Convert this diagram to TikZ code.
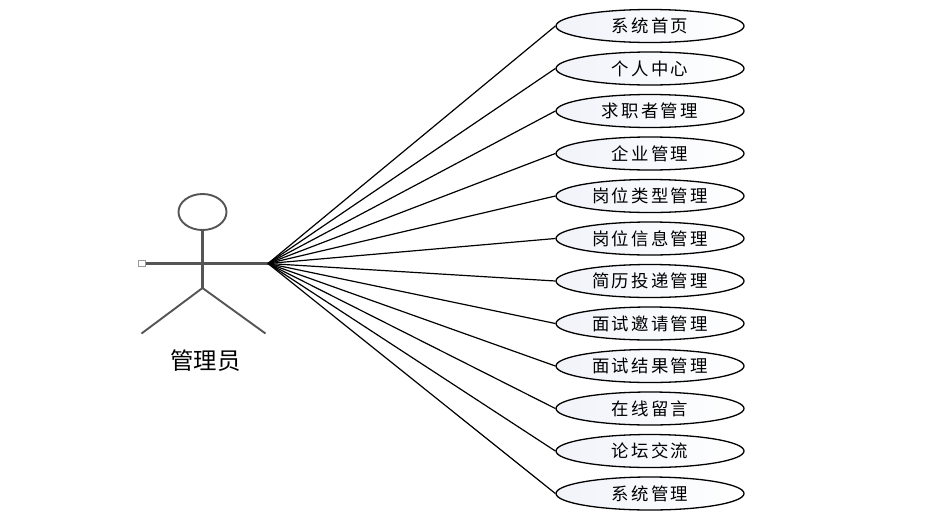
\documentclass[tikz,border=0pt]{standalone}
\usepackage{fontspec}
\usetikzlibrary{shapes.geometric}
\newfontfamily\cjk[LetterSpace=13]{Noto Sans CJK SC}
\newfontfamily\cjkplain{Noto Sans CJK SC}
\definecolor{actorgrey}{HTML}{555555}
\definecolor{casefill}{HTML}{F1F3FA}
\tikzset{
  usecase/.style={ellipse,draw=black,line width=1.3pt,minimum width=188pt,minimum height=33pt,inner sep=0pt,
    left color=casefill,right color=white,font=\cjk\fontsize{17.4}{17.4}\selectfont},
  link/.style={draw=black,line width=1.2pt},
  limb/.style={draw=actorgrey,line width=1.9pt},
  torso/.style={draw=actorgrey,line width=2.6pt},
}
\begin{document}
\begin{tikzpicture}[x=1pt,y=-1pt]
\useasboundingbox (0,0) rectangle (932,520);
\fill[white] (0,0) rectangle (932,520);
\foreach \n/\yy/\t in {a/26/系统首页,b/68.5/个人中心,c/111/求职者管理,d/153.5/企业管理,e/196/岗位类型管理,f/238.5/岗位信息管理,g/281/简历投递管理,h/323.5/面试邀请管理,i/366/面试结果管理,j/408.5/在线留言,k/451/论坛交流,l/493.5/系统管理}{
  \node[usecase] (\n) at (650,\yy) {\raisebox{-0.5pt}{\t}};
}
\node[ellipse,draw=actorgrey,line width=1.9pt,minimum width=48pt,minimum height=36pt,inner sep=0pt] (head) at (202.5,212) {};
\coordinate (hub) at (268,263.5);
\coordinate (hip) at (202.5,288);
\coordinate (lfoot) at (141.5,333.5);
\coordinate (rfoot) at (265.5,333.5);
\node[draw=actorgrey!60,fill=white,line width=1.2pt,minimum size=6.5pt,inner sep=0pt] (grip) at (142,263.5) {};
\draw[torso] (grip.east) -- (hub);
\draw[torso] (head.south) -- (hip);
\draw[limb] (lfoot) -- (hip) -- (rfoot);
\foreach \n in {a,b,c,d,e,f,g,h,i,j,k,l}{
  \draw[link] (hub) -- (\n.west);
}
\node[font=\cjkplain\fontsize{23.4}{23.4}\selectfont,inner sep=0pt] (name) at (205.5,361) {管理员};
\end{tikzpicture}
\end{document}
